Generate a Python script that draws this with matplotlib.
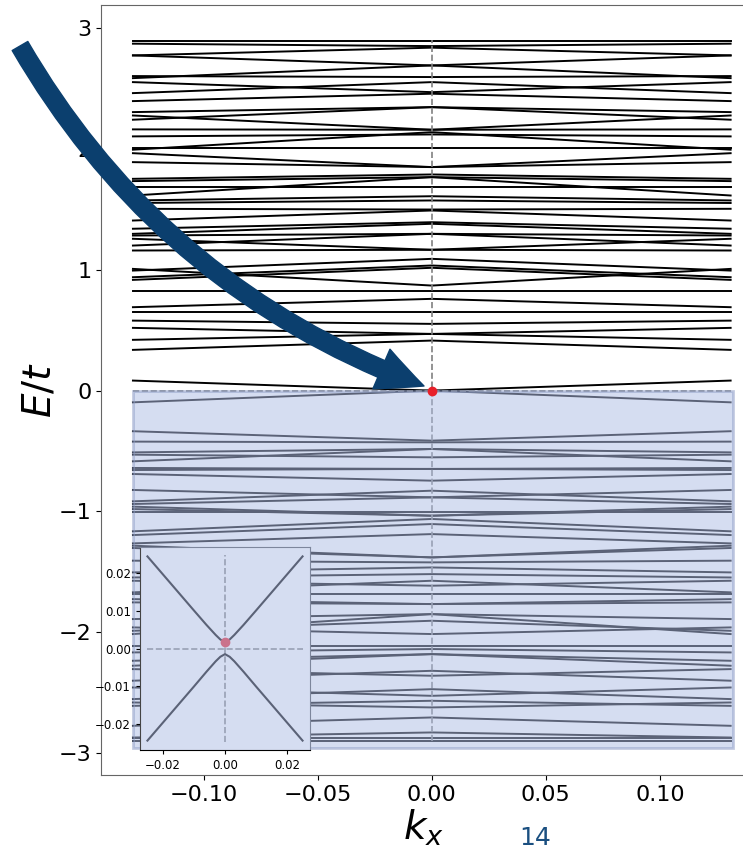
import matplotlib
matplotlib.use("Agg")
import matplotlib.pyplot as plt
import numpy as np
from matplotlib.patches import Rectangle, FancyArrowPatch, ArrowStyle

# kx of the zone edge; bands are mirror symmetric, given as (edge, centre) energies
KX_EDGE = 0.131

upper_edge = [2.892, 2.870, 2.773, 2.773, 2.602, 2.585, 2.552, 2.461, 2.395, 2.304,
              2.276, 2.241, 2.161, 2.103, 2.009, 1.993, 1.964, 1.890, 1.752, 1.733,
              1.683, 1.614, 1.573, 1.552, 1.504, 1.407, 1.339, 1.297, 1.283, 1.256,
              1.200, 1.159, 1.007, 0.993, 0.938, 0.916, 0.828, 0.690, 0.648, 0.579,
              0.519, 0.420, 0.337, 0.083]
upper_center = [2.892, 2.850, 2.837, 2.690, 2.594, 2.690, 2.469, 2.552, 2.456, 2.345,
                2.158, 2.345, 2.158, 2.119, 2.009, 2.138, 1.849, 1.849, 1.788, 1.766,
                1.683, 1.766, 1.608, 1.573, 1.498, 1.490, 1.393, 1.380, 1.297, 1.165,
                1.297, 1.165, 0.869, 1.090, 1.035, 1.016, 0.828, 0.759, 0.648, 0.552,
                0.469, 0.469, 0.414, 0.000]

lower_edge = [-0.097, -0.336, -0.422, -0.511, -0.585, -0.530, -0.640, -0.657, -0.690,
              -0.822, -0.916, -0.938, -0.960, -0.980, -1.007, -1.164, -1.195, -1.264,
              -1.283, -1.302, -1.407, -1.504, -1.546, -1.573, -1.669, -1.683, -1.725,
              -1.752, -1.890, -2.014, -1.959, -1.987, -2.111, -2.166, -2.276, -2.235,
              -2.304, -2.400, -2.552, -2.456, -2.608, -2.580, -2.773, -2.870, -2.870,
              -2.897]
lower_center = [0.000, -0.414, -0.428, -0.483, -0.483, -0.552, -0.648, -0.648, -0.745,
                -0.883, -0.828, -0.883, -1.035, -1.035, -1.007, -1.062, -1.104, -1.187,
                -1.380, -1.380, -1.421, -1.463, -1.518, -1.614, -1.573, -1.683, -1.766,
                -1.766, -1.849, -1.849, -2.014, -1.904, -2.111, -2.138, -2.180, -2.180,
                -2.359, -2.318, -2.470, -2.525, -2.566, -2.621, -2.704, -2.828, -2.870,
                -2.897]

# zoom near the gap (inset)
inset_k = [-0.025, -0.020, -0.015, -0.010, -0.006, -0.003, -0.0015, 0.0,
           0.0015, 0.003, 0.006, 0.010, 0.015, 0.020, 0.025]
inset_upper = [0.0245, 0.0197, 0.0149, 0.0101, 0.0063, 0.0036, 0.0024, 0.0017,
               0.0024, 0.0036, 0.0063, 0.0101, 0.0149, 0.0197, 0.0245]
inset_lower = [-0.0245, -0.0197, -0.0149, -0.0101, -0.0062, -0.0034, -0.0022, -0.0015,
               -0.0022, -0.0034, -0.0062, -0.0101, -0.0149, -0.0197, -0.0245]
gap_point = (0.0, 0.0017)

OVERLAY = "#afbee5"
OVERLAY_ALPHA = 0.52

fig = plt.figure(figsize=(7.43, 8.51), dpi=100)
ax = fig.add_axes([101 / 743, 76 / 851, 644 / 743, 770 / 851])

kx = [-KX_EDGE, 0.0, KX_EDGE]
for e, c in zip(upper_edge + lower_edge, upper_center + lower_center):
    ax.plot(kx, [e, c, e], color="black", lw=1.4, zorder=2)

ax.plot([0, 0], [-2.9, 2.9], ls="--", color="#808080", lw=1.2, zorder=2)
ax.plot([-KX_EDGE, 0.132], [0, 0], ls="--", color="#808080", lw=1.2, zorder=2)

ax.add_patch(Rectangle((-KX_EDGE, -2.96), KX_EDGE + 0.132, 2.96,
                       facecolor=OVERLAY, edgecolor="#8c9cc6", lw=2,
                       alpha=OVERLAY_ALPHA, zorder=3))
ax.plot([0], [0], "o", color="#e8202a", ms=6, zorder=5)

ax.set_xlim(-0.145, 0.1373)
ax.set_ylim(-3.18, 3.19)
ax.set_xticks([-0.10, -0.05, 0.0, 0.05, 0.10])
ax.set_xticklabels(["\u22120.10", "\u22120.05", "0.00", "0.05", "0.10"])
ax.set_yticks([-3, -2, -1, 0, 1, 2, 3])
ax.tick_params(labelsize=16)
for sp in ax.spines.values():
    sp.set_color("#666666")
ax.set_xlabel("$k_x$", fontsize=28, labelpad=2)
ax.set_ylabel("$E/t$", fontsize=28, labelpad=0)

# inset
axin = fig.add_axes([140 / 743, 101 / 851, 170 / 743, 203 / 851], zorder=4)
axin.plot(inset_k, inset_upper, color="black", lw=1.5, zorder=2)
axin.plot(inset_k, inset_lower, color="black", lw=1.5, zorder=2)
axin.plot([0, 0], [-0.025, 0.025], ls="--", color="#808080", lw=1.2, zorder=1.5)
axin.plot([-0.025, 0.025], [0, 0], ls="--", color="#808080", lw=1.2, zorder=1.5)
axin.plot([gap_point[0]], [gap_point[1]], "o", color="#e8202a", ms=6, zorder=2)
axin.add_patch(Rectangle((0, 0), 1, 1, transform=axin.transAxes,
                         facecolor=OVERLAY, edgecolor="none",
                         alpha=OVERLAY_ALPHA, zorder=2.2))
axin.set_xlim(-0.0274, 0.0274)
axin.set_ylim(-0.027, 0.027)
axin.set_xticks([-0.02, 0.0, 0.02])
axin.set_yticks([-0.02, -0.01, 0.0, 0.01, 0.02])
axin.set_xticklabels(["\u22120.02", "0.00", "0.02"])
axin.set_yticklabels(["\u22120.02", "\u22120.01", "0.00", "0.01", "0.02"])
axin.tick_params(labelsize=8.5, length=3)
axin.spines["top"].set_color("#7d869c")
axin.spines["right"].set_color("#7d869c")
axin.spines["left"].set_color("#444444")

# big curved arrow pointing at the gap
arrow = FancyArrowPatch((20 / 743, 1 - 46 / 851), (424 / 743, 1 - 386 / 851),
                        transform=fig.transFigure,
                        connectionstyle="arc3,rad=0.18",
                        arrowstyle=ArrowStyle.Simple(head_length=3.3, head_width=3.1,
                                                     tail_width=1.3),
                        mutation_scale=10, color="#0b3f6e",
                        shrinkA=0, shrinkB=0, zorder=6)
fig.add_artist(arrow)

fig.text(535 / 743, 1 / 851, "14", color="#1a4f80", fontsize=18,
         ha="center", va="bottom")

fig.savefig("out.png", dpi=100)
